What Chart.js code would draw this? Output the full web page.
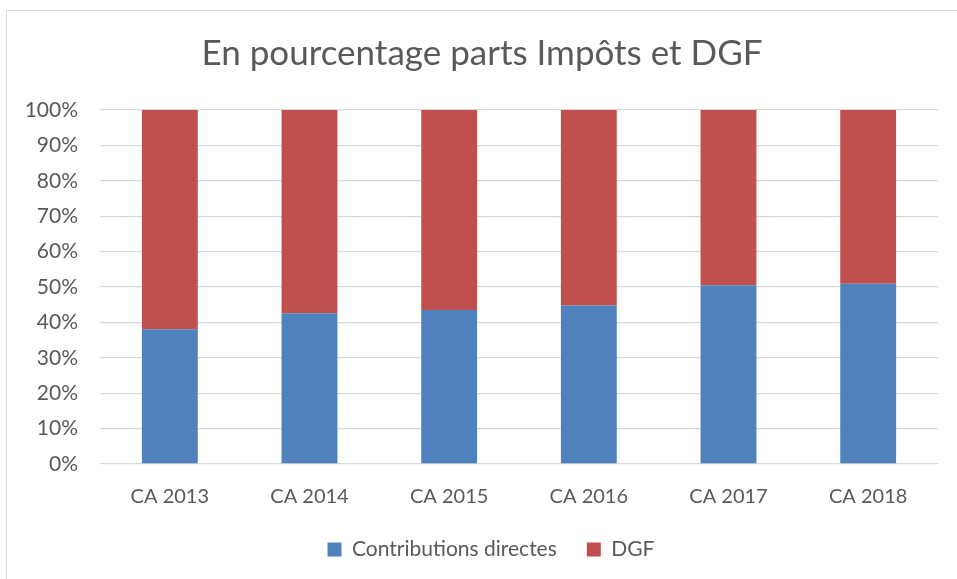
<!DOCTYPE html>
<html>
<head>
<meta charset="utf-8">
<script src="https://cdn.jsdelivr.net/npm/chart.js@4/dist/chart.umd.min.js"></script>
<style>
html,body{margin:0;padding:0;background:#fff;overflow:hidden;}
#frame{position:absolute;left:6px;top:10px;width:1100px;height:1100px;border:1px solid #d9d9d9;}
#wrap{position:absolute;left:0;top:0;width:957px;height:579px;}
</style>
</head>
<body>
<div id="frame"></div>
<div id="wrap"><canvas id="c" width="957" height="579"></canvas></div>
<script>
const categories = ["CA 2013","CA 2014","CA 2015","CA 2016","CA 2017","CA 2018"];
const contributionsDirectes = [38.1, 42.6, 43.5, 44.8, 50.5, 50.9];
const dgf = [61.9, 57.4, 56.5, 55.2, 49.5, 49.1];
const seriesNames = ["Contributions directes","DGF"];
const titleText = "En pourcentage parts Impôts et DGF";

const FONT = "Lato, 'Open Sans', sans-serif";
const TXT = "#595959";

const legendShift = {
  id: 'legendShift',
  afterLayout(chart) {
    const lg = chart.legend;
    if (lg) { lg.left += 9; lg.right += 9; }
  }
};

new Chart(document.getElementById('c'), {
  type: 'bar',
  data: {
    labels: categories,
    datasets: [
      {label: seriesNames[0], data: contributionsDirectes, backgroundColor: '#4F81BD', barPercentage: 0.4, categoryPercentage: 1},
      {label: seriesNames[1], data: dgf, backgroundColor: '#C0504D', barPercentage: 0.4, categoryPercentage: 1}
    ]
  },
  plugins: [legendShift],
  options: {
    responsive: false,
    animation: false,
    layout: {padding: {left: 26, right: 19, top: 11, bottom: 9}},
    plugins: {
      title: {display: true, text: titleText, color: TXT,
        font: {family: FONT, size: 35, weight: 'normal'}, padding: {top: 22, bottom: 35}},
      legend: {position: 'bottom', labels: {color: TXT, font: {family: FONT, size: 21},
        boxWidth: 14, boxHeight: 14, padding: 30}},
      tooltip: {enabled: false}
    },
    scales: {
      x: {stacked: true, grid: {display: false}, border: {display: false},
        ticks: {color: TXT, font: {family: FONT, size: 20}, padding: 13},
        afterFit: s => { s.height = 45; }},
      y: {stacked: true, min: 0, max: 100,
        grid: {color: '#d9d9d9', lineWidth: 1.3, drawTicks: false},
        border: {display: false},
        ticks: {stepSize: 10, color: TXT, font: {family: FONT, size: 21}, padding: 22,
          callback: v => v + '%'},
        afterFit: s => { s.width = 74; }}
    }
  }
});
</script>
</body>
</html>
